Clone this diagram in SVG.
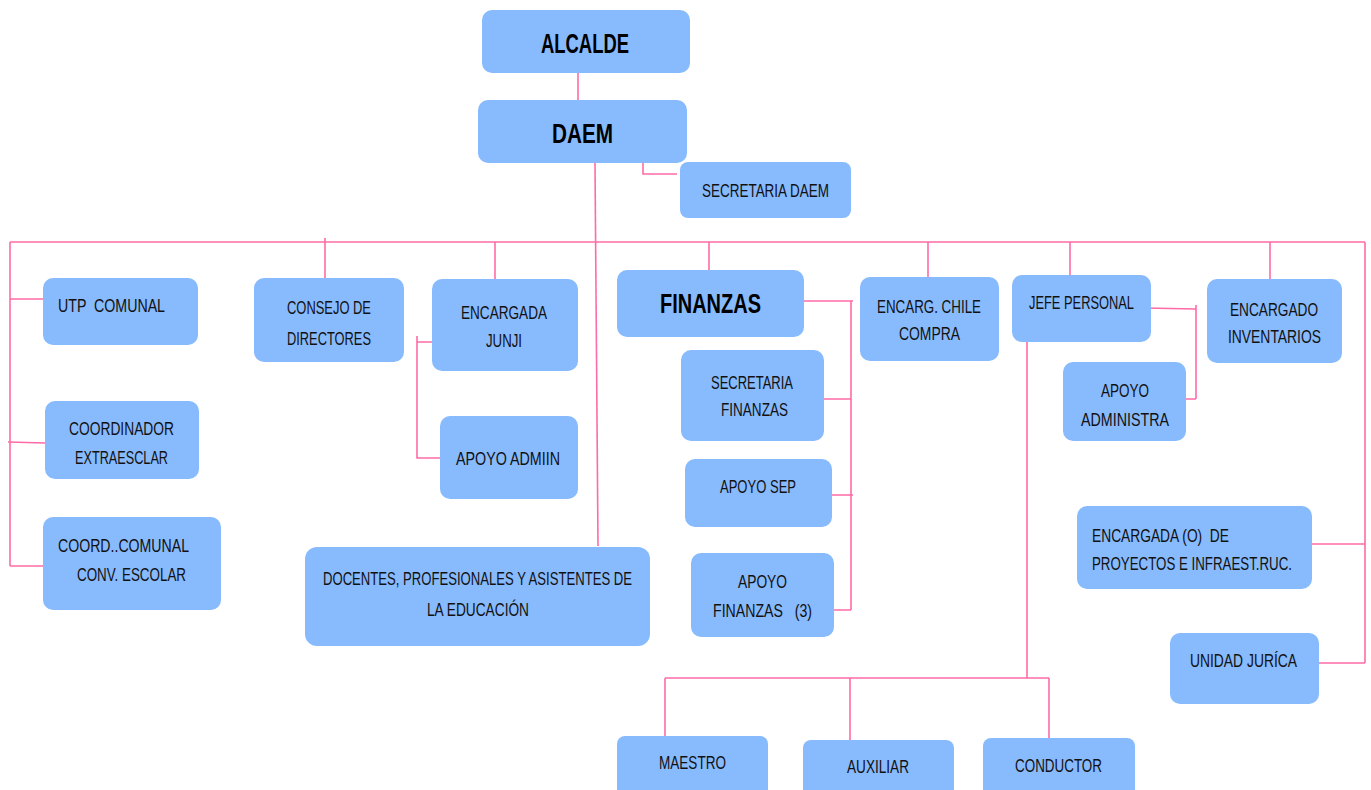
<svg xmlns="http://www.w3.org/2000/svg" width="1371" height="790" viewBox="0 0 1371 790">
<style>
.b{fill:#88BAFE;stroke:none}
.t{font-family:"Liberation Sans",Arial,sans-serif;font-size:19px;fill:#111;white-space:pre}
.h{font-family:"Liberation Sans",Arial,sans-serif;font-size:28px;font-weight:bold;fill:#000}
#connectors path{fill:none;stroke:#FF6BA6;stroke-width:1.6}
</style>
<rect width="1371" height="790" fill="#fff"/>
<g id="connectors">
<path d="M578,73V100"/>
<path d="M595,163L598,546"/>
<path d="M643,163V174H677"/>
<path d="M10,242H1365"/>
<path d="M10,242V566"/>
<path d="M10,299H43"/>
<path d="M8,442L45,443"/>
<path d="M10,566H43"/>
<path d="M325,238V280"/>
<path d="M495,242V290"/>
<path d="M417,336V458H440M417,342H432"/>
<path d="M709,242V270"/>
<path d="M804,301H853M851,301V610M824,399H851M832,495H853M832,610H851"/>
<path d="M928,242V277"/>
<path d="M1070,242V275"/>
<path d="M1270,242V279"/>
<path d="M1365,242V663M1312,544H1365M1319,663H1365"/>
<path d="M1145,308L1196,309M1196,305V399M1186,399H1196"/>
<path d="M1027,342V678"/>
<path d="M665,678H1049M665,678V736M850,678V740M1049,678V738"/>
</g>
<g id="alcalde"><rect class="b" x="482" y="10" width="208" height="63" rx="10"/><text class="h" x="541" y="53" textLength="88" lengthAdjust="spacingAndGlyphs">ALCALDE</text></g>
<g id="daem"><rect class="b" x="478" y="100" width="209" height="63" rx="10"/><text class="h" x="552" y="143" textLength="61" lengthAdjust="spacingAndGlyphs">DAEM</text></g>
<g id="secretaria-daem"><rect class="b" x="680" y="162" width="171" height="56" rx="8"/><text class="t" x="702" y="197" textLength="127" lengthAdjust="spacingAndGlyphs">SECRETARIA DAEM</text></g>
<g id="utp"><rect class="b" x="43" y="278" width="155" height="67" rx="10"/><text class="t" x="58" y="312" textLength="107" lengthAdjust="spacingAndGlyphs" xml:space="preserve">UTP  COMUNAL</text></g>
<g id="coordinador"><rect class="b" x="45" y="401" width="154" height="78" rx="10"/><text class="t" x="69" y="435" textLength="105" lengthAdjust="spacingAndGlyphs">COORDINADOR</text><text class="t" x="75" y="464" textLength="93" lengthAdjust="spacingAndGlyphs">EXTRAESCLAR</text></g>
<g id="coord-comunal"><rect class="b" x="43" y="517" width="178" height="93" rx="10"/><text class="t" x="58" y="552" textLength="131" lengthAdjust="spacingAndGlyphs">COORD..COMUNAL</text><text class="t" x="77" y="581" textLength="109" lengthAdjust="spacingAndGlyphs">CONV. ESCOLAR</text></g>
<g id="consejo"><rect class="b" x="254" y="278" width="150" height="84" rx="10"/><text class="t" x="287" y="314" textLength="84" lengthAdjust="spacingAndGlyphs">CONSEJO DE</text><text class="t" x="287" y="345" textLength="84" lengthAdjust="spacingAndGlyphs">DIRECTORES</text></g>
<g id="junji"><rect class="b" x="432" y="279" width="146" height="92" rx="10"/><text class="t" x="461" y="319" textLength="86" lengthAdjust="spacingAndGlyphs">ENCARGADA</text><text class="t" x="486" y="347" textLength="36" lengthAdjust="spacingAndGlyphs">JUNJI</text></g>
<g id="apoyo-admiin"><rect class="b" x="440" y="416" width="138" height="83" rx="10"/><text class="t" x="456" y="465" textLength="104" lengthAdjust="spacingAndGlyphs">APOYO ADMIIN</text></g>
<g id="docentes"><rect class="b" x="305" y="547" width="345" height="99" rx="12"/><text class="t" x="323" y="585" textLength="309" lengthAdjust="spacingAndGlyphs">DOCENTES, PROFESIONALES Y ASISTENTES DE</text><text class="t" x="427" y="616" textLength="102" lengthAdjust="spacingAndGlyphs">LA EDUCACIÓN</text></g>
<g id="finanzas"><rect class="b" x="617" y="270" width="187" height="67" rx="10"/><text class="h" x="660" y="313" textLength="101" lengthAdjust="spacingAndGlyphs">FINANZAS</text></g>
<g id="secretaria-finanzas"><rect class="b" x="681" y="350" width="143" height="91" rx="10"/><text class="t" x="711" y="389" textLength="82" lengthAdjust="spacingAndGlyphs">SECRETARIA</text><text class="t" x="721" y="416" textLength="67" lengthAdjust="spacingAndGlyphs">FINANZAS</text></g>
<g id="apoyo-sep"><rect class="b" x="685" y="459" width="147" height="68" rx="10"/><text class="t" x="720" y="493" textLength="76" lengthAdjust="spacingAndGlyphs">APOYO SEP</text></g>
<g id="apoyo-finanzas"><rect class="b" x="691" y="553" width="143" height="84" rx="10"/><text class="t" x="738" y="588" textLength="49" lengthAdjust="spacingAndGlyphs">APOYO</text><text class="t" x="713" y="617" textLength="99" lengthAdjust="spacingAndGlyphs" xml:space="preserve">FINANZAS   (3)</text></g>
<g id="chile-compra"><rect class="b" x="860" y="277" width="139" height="84" rx="10"/><text class="t" x="877" y="313" textLength="104" lengthAdjust="spacingAndGlyphs">ENCARG. CHILE</text><text class="t" x="899" y="340" textLength="61" lengthAdjust="spacingAndGlyphs">COMPRA</text></g>
<g id="jefe-personal"><rect class="b" x="1012" y="275" width="139" height="67" rx="10"/><text class="t" x="1029" y="309" textLength="105" lengthAdjust="spacingAndGlyphs">JEFE PERSONAL</text></g>
<g id="apoyo-administra"><rect class="b" x="1063" y="362" width="123" height="79" rx="10"/><text class="t" x="1101" y="397" textLength="48" lengthAdjust="spacingAndGlyphs">APOYO</text><text class="t" x="1081" y="426" textLength="88" lengthAdjust="spacingAndGlyphs">ADMINISTRA</text></g>
<g id="inventarios"><rect class="b" x="1207" y="279" width="135" height="84" rx="10"/><text class="t" x="1230" y="316" textLength="88" lengthAdjust="spacingAndGlyphs">ENCARGADO</text><text class="t" x="1228" y="343" textLength="93" lengthAdjust="spacingAndGlyphs">INVENTARIOS</text></g>
<g id="proyectos"><rect class="b" x="1077" y="506" width="235" height="83" rx="10"/><text class="t" x="1092" y="542" textLength="137" lengthAdjust="spacingAndGlyphs" xml:space="preserve">ENCARGADA (O)  DE</text><text class="t" x="1092" y="570" textLength="200" lengthAdjust="spacingAndGlyphs">PROYECTOS E INFRAEST.RUC.</text></g>
<g id="juridica"><rect class="b" x="1170" y="633" width="149" height="71" rx="10"/><text class="t" x="1190" y="667" textLength="107" lengthAdjust="spacingAndGlyphs">UNIDAD JURÍCA</text></g>
<g id="maestro"><rect class="b" x="617" y="736" width="151" height="64" rx="8"/><text class="t" x="659" y="769" textLength="67" lengthAdjust="spacingAndGlyphs">MAESTRO</text></g>
<g id="auxiliar"><rect class="b" x="803" y="740" width="151" height="60" rx="8"/><text class="t" x="847" y="773" textLength="62" lengthAdjust="spacingAndGlyphs">AUXILIAR</text></g>
<g id="conductor"><rect class="b" x="983" y="738" width="152" height="62" rx="8"/><text class="t" x="1015" y="772" textLength="87" lengthAdjust="spacingAndGlyphs">CONDUCTOR</text></g>
</svg>
